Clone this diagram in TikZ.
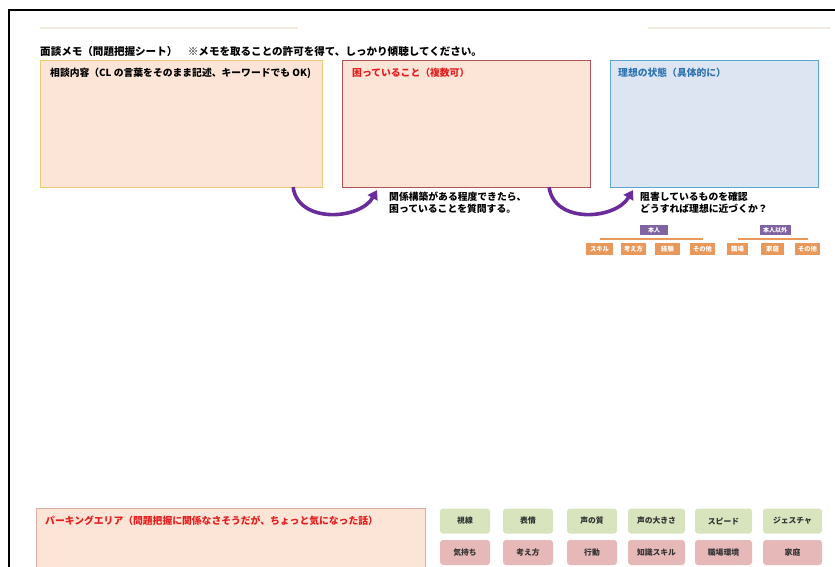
\documentclass[tikz,border=0pt]{standalone}
\usepackage{fontspec}
\setmainfont{Noto Sans CJK JP}
\usetikzlibrary{arrows.meta}
\definecolor{peach}{HTML}{FCE4D6}
\definecolor{goldb}{HTML}{EBCB7A}
\definecolor{redb}{HTML}{B4535A}
\definecolor{bluef}{HTML}{DCE5F1}
\definecolor{blueb}{HTML}{5AA6CC}
\definecolor{redt}{HTML}{E41E1E}
\definecolor{bluet}{HTML}{2F73B3}
\definecolor{arrowp}{HTML}{6A2C9A}
\definecolor{honnin}{HTML}{8064A2}
\definecolor{orng}{HTML}{E8985A}
\definecolor{greenb}{HTML}{D7E4BD}
\definecolor{pinkb}{HTML}{E6B9B8}
\definecolor{parkb}{HTML}{D9ADA5}
\definecolor{faint}{HTML}{F1EBE4}
\tikzset{
  x=1pt, y=-1pt,
  bigbox/.style={rectangle, anchor=north west, inner sep=0pt, line width=1.1pt},
  boxlabel/.style={anchor=north west, inner sep=0pt, font=\fontsize{9.8}{11}\selectfont\bfseries},
  note/.style={anchor=north west, inner sep=0pt, align=left, font=\fontsize{9.8}{12}\selectfont\bfseries},
  purplearrow/.style={draw=arrowp, line width=3.6pt, -{Triangle[length=9pt,width=11pt]}},
  headbox/.style={fill=honnin, text=white, inner sep=0pt, minimum height=10pt, font=\fontsize{6}{6}\selectfont\bfseries},
  subbox/.style={fill=orng, text=white, inner sep=0pt, minimum height=12pt, font=\fontsize{6.3}{7}\selectfont\bfseries},
  bar/.style={draw=orng, line width=2.5pt},
  btn/.style={rectangle, rounded corners=3pt, inner sep=0pt, minimum height=25pt, text=black!80, font=\fontsize{7.8}{9}\selectfont\bfseries},
}
\begin{document}
\begin{tikzpicture}
\useasboundingbox (0,0) rectangle (835,567);
% frame
\draw[line width=2pt] (9,568) -- (9,10) -- (836,10);
% faint lines
\draw[faint, line width=1.5pt] (40,28) -- (298,28);
\draw[faint, line width=1.5pt] (648,28) -- (830,28);
% title
\node[anchor=west, inner sep=0pt, font=\fontsize{10.55}{12}\selectfont\bfseries] (title) at (40,51)
  {面談メモ（問題把握シート）　※メモを取ることの許可を得て、しっかり傾聴してください。};
% main boxes
\node[bigbox, fill=peach, draw=goldb, minimum width=282pt, minimum height=127pt] (b1) at (40,60) {};
\node[bigbox, fill=peach, draw=redb, minimum width=248pt, minimum height=127pt] (b2) at (342,60) {};
\node[bigbox, fill=bluef, draw=blueb, minimum width=208pt, minimum height=127pt] (b3) at (610,60) {};
\node[boxlabel] (l1) at ([xshift=10pt,yshift=-8pt]b1.north west) {相談内容（CL の言葉をそのまま記述、キーワードでも OK)};
\node[boxlabel, text=redt] (l2) at ([xshift=10pt,yshift=-8pt]b2.north west) {困っていること（複数可）};
\node[boxlabel, text=bluet] (l3) at ([xshift=8pt,yshift=-8pt]b3.north west) {理想の状態（具体的に）};
% arrows
\coordinate (a1s) at ([xshift=-30pt,yshift=1pt]b1.south east);
\coordinate (a1e) at ([xshift=35pt,yshift=-2pt]b2.south west);
\draw[purplearrow] (a1s) .. controls (298,224) and (360,220) .. (a1e);
\coordinate (a2s) at ([xshift=-42pt,yshift=1pt]b2.south east);
\coordinate (a2e) at ([xshift=23pt,yshift=-2pt]b3.south west);
\draw[purplearrow] (a2s) .. controls (554,224) and (615,220) .. (a2e);
% notes
\node[note] (n1) at (389,192) {関係構築がある程度できたら、\\困っていることを質問する。};
\node[note] (n2) at (640,192) {阻害しているものを確認\\どうすれば理想に近づくか？};
% tree
\node[headbox, minimum width=28pt] (hn) at (654,230) {本人};
\node[headbox, minimum width=31pt] (hg) at (775,230) {本人以外};
\node[subbox, minimum width=27pt] (s1) at (599.5,249) {スキル};
\node[subbox, minimum width=25pt] (s2) at (633.5,249) {考え方};
\node[subbox, minimum width=25pt] (s3) at (667.5,249) {経験};
\node[subbox, minimum width=25pt] (s4) at (702.5,249) {その他};
\node[subbox, minimum width=21pt] (s5) at (737.5,249) {職場};
\node[subbox, minimum width=23pt] (s6) at (772.5,249) {家庭};
\node[subbox, minimum width=25pt] (s7) at (807.5,249) {その他};
\draw[bar] ([yshift=4pt]s1.north) -- ([yshift=4pt]s4.north);
\draw[bar] ([yshift=4pt]s5.north) -- ([yshift=4pt]s7.north);
% parking area
\node[bigbox, fill=peach, draw=parkb, line width=0.9pt, minimum width=389pt, minimum height=62pt] (pk) at (36,508) {};
\node[boxlabel, text=redt] (pl) at ([xshift=9pt,yshift=-8pt]pk.north west) {パーキングエリア（問題把握に関係なさそうだが、ちょっと気になった話）};
% buttons
\node[btn, fill=greenb, minimum width=50pt] (g1) at (465,521) {視線};
\node[btn, fill=greenb, minimum width=50pt] (g2) at (528,521) {表情};
\node[btn, fill=greenb, minimum width=50pt] (g3) at (592,521) {声の質};
\node[btn, fill=greenb, minimum width=57pt] (g4) at (656.5,521) {声の大きさ};
\node[btn, fill=greenb, minimum width=57pt] (g5) at (723.5,521) {スピード};
\node[btn, fill=greenb, minimum width=59pt] (g6) at (792.5,521) {ジェスチャ};
\node[btn, fill=pinkb, minimum width=50pt] (p1) at (465,552.5) {気持ち};
\node[btn, fill=pinkb, minimum width=50pt] (p2) at (528,552.5) {考え方};
\node[btn, fill=pinkb, minimum width=50pt] (p3) at (592,552.5) {行動};
\node[btn, fill=pinkb, minimum width=57pt] (p4) at (656.5,552.5) {知識スキル};
\node[btn, fill=pinkb, minimum width=57pt] (p5) at (723.5,552.5) {職場環境};
\node[btn, fill=pinkb, minimum width=59pt] (p6) at (792.5,552.5) {家庭};
\end{tikzpicture}
\end{document}
